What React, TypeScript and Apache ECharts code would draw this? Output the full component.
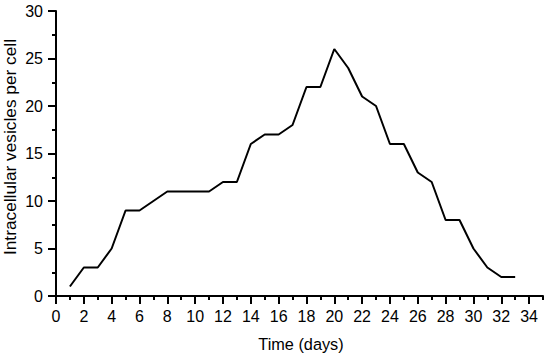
import React, { useEffect, useRef } from "react";
import * as echarts from "echarts";

const days: number[] = [1, 2, 3, 4, 5, 6, 7, 8, 9, 10, 11, 12, 13, 14, 15, 16, 17, 18, 19, 20, 21, 22, 23, 24, 25, 26, 27, 28, 29, 30, 31, 32, 33];
const vesicles: number[] = [1, 3, 3, 5, 9, 9, 10, 11, 11, 11, 11, 12, 12, 16, 17, 17, 18, 22, 22, 26, 24, 21, 20, 16, 16, 13, 12, 8, 8, 5, 3, 2, 2];
const xMajorTicks: number[] = [0, 2, 4, 6, 8, 10, 12, 14, 16, 18, 20, 22, 24, 26, 28, 30, 32, 34];
const xMinorTicks: number[] = [1, 3, 5, 7, 9, 11, 13, 15, 17, 19, 21, 23, 25, 27, 29, 31, 33, 35];
const yTitle = "Intracellular vesicles per cell";
const xTitle = "Time (days)";

const FONT = "'Liberation Sans', Arial, sans-serif";

export default function App() {
  const ref = useRef<HTMLDivElement>(null);
  useEffect(() => {
    if (!ref.current) return;
    const chart = echarts.init(ref.current, null, { renderer: "svg" });
    const axisLine = { show: true, lineStyle: { color: "#000", width: 2 } };
    chart.setOption({
      animation: false,
      backgroundColor: "#fff",
      grid: { left: 56, right: 7, top: 11, bottom: 62, containLabel: false },
      xAxis: [
        {
          type: "value",
          min: 0,
          max: 35,
          interval: 1,
          axisLine,
          splitLine: { show: false },
          axisTick: { show: true, customValues: xMajorTicks, length: 8, lineStyle: { color: "#000", width: 2 } },
          axisLabel: {
            show: true,
            customValues: xMajorTicks,
            margin: 12,
            color: "#000",
            fontSize: 16,
            fontFamily: FONT,
          },
        },
        {
          type: "value",
          min: 0,
          max: 35,
          interval: 1,
          position: "bottom",
          axisLine: { show: false },
          splitLine: { show: false },
          axisTick: { show: true, customValues: xMinorTicks, length: 4, lineStyle: { color: "#000", width: 2 } },
          axisLabel: { show: false },
        },
      ],
      yAxis: {
        type: "value",
        min: 0,
        max: 30,
        interval: 5,
        axisLine,
        splitLine: { show: false },
        axisTick: { show: true, length: 8, lineStyle: { color: "#000", width: 2 } },
        minorTick: { show: true, splitNumber: 2, length: 4, lineStyle: { color: "#000", width: 2 } },
        minorSplitLine: { show: false },
        axisLabel: { margin: 13, color: "#000", fontSize: 16, fontFamily: FONT },
      },
      graphic: [
        {
          type: "text",
          x: 10,
          y: 147,
          rotation: Math.PI / 2,
          style: {
            text: yTitle,
            fill: "#000",
            fontSize: 17.3,
            fontFamily: FONT,
            align: "center",
            verticalAlign: "middle",
          },
        },
        {
          type: "text",
          x: 301,
          y: 344,
          style: {
            text: xTitle,
            fill: "#000",
            fontSize: 16.3,
            fontFamily: FONT,
            align: "center",
            verticalAlign: "middle",
          },
        },
      ],
      series: [
        {
          type: "line",
          xAxisIndex: 0,
          data: days.map((d, i) => [d, vesicles[i]]),
          showSymbol: false,
          symbol: "none",
          lineStyle: { color: "#000", width: 2 },
        },
      ],
    });
    return () => chart.dispose();
  }, []);
  return <div ref={ref} style={{ position: "fixed", left: 0, top: 0, width: 550, height: 358 }} />;
}
